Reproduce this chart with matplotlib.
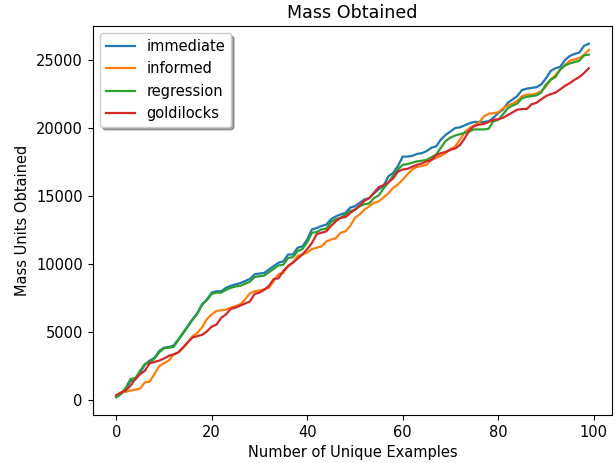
import matplotlib

matplotlib.use("Agg")
import matplotlib.pyplot as plt
import numpy as np

examples = np.arange(100)

immediate = [
    250, 450, 800, 1400, 1500, 2000, 2600, 2900, 3100, 3600,
    3850, 3900, 4000, 4450, 4950, 5450, 5950, 6400, 7050, 7400,
    7900, 8000, 8000, 8250, 8400, 8500, 8600, 8750, 8900, 9250,
    9300, 9350, 9600, 9850, 10100, 10200, 10700, 10700, 11200, 11300,
    11800, 12550, 12650, 12800, 12900, 13300, 13500, 13650, 13750, 14150,
    14250, 14500, 14750, 14850, 15200, 15500, 15750, 16450, 16700, 17200,
    17900, 17900, 17950, 18100, 18150, 18300, 18550, 18650, 19150, 19500,
    19750, 20000, 20050, 20200, 20350, 20450, 20450, 20450, 20500, 20750,
    21100, 21350, 21850, 22100, 22350, 22800, 22900, 22950, 23000, 23200,
    23650, 24200, 24400, 24500, 25000, 25300, 25450, 25550, 26050, 26200,
]
informed = [
    250, 550, 600, 700, 750, 850, 1300, 1350, 1900, 2500,
    2700, 2900, 3350, 3500, 3850, 4250, 4700, 4950, 5350, 5950,
    6300, 6550, 6600, 6650, 6800, 6900, 7050, 7400, 7850, 8000,
    8050, 8150, 8250, 8750, 9250, 9350, 9850, 10100, 10600, 10700,
    10850, 11100, 11200, 11300, 11650, 11800, 11900, 12300, 12400, 12800,
    13400, 13650, 14000, 14250, 14500, 14600, 14900, 15200, 15600, 15850,
    16200, 16600, 16950, 17150, 17200, 17300, 17650, 17800, 17950, 18150,
    18450, 18650, 19150, 19700, 20000, 20200, 20400, 20850, 21050, 21100,
    21150, 21450, 21650, 21800, 22000, 22350, 22450, 22450, 22550, 22700,
    23050, 23550, 23900, 24300, 24650, 24950, 25050, 25150, 25400, 25750,
]
regression = [
    200, 450, 900, 1550, 1600, 2150, 2650, 2750, 3050, 3500,
    3800, 3850, 3900, 4400, 4900, 5400, 5900, 6350, 7000, 7350,
    7800, 7900, 7900, 8100, 8250, 8350, 8400, 8550, 8700, 9050,
    9100, 9150, 9400, 9650, 9900, 9950, 10450, 10500, 10950, 11100,
    11600, 12300, 12350, 12550, 12600, 13100, 13300, 13400, 13650, 13900,
    14000, 14250, 14400, 14450, 14850, 15050, 15550, 16000, 16500, 16950,
    17300, 17350, 17450, 17550, 17600, 17650, 17850, 18050, 18550, 19050,
    19300, 19450, 19550, 19650, 19750, 19900, 19900, 19900, 19950, 20500,
    20600, 21000, 21450, 21650, 21800, 22200, 22300, 22350, 22400, 22600,
    23200, 23550, 23750, 24300, 24600, 24750, 24850, 24950, 25350, 25400,
]
goldilocks = [
    350, 550, 700, 1050, 1550, 1900, 2150, 2700, 2800, 2900,
    3050, 3250, 3350, 3500, 3850, 4250, 4600, 4700, 4800, 5050,
    5400, 5550, 6050, 6300, 6700, 6800, 6950, 7100, 7250, 7800,
    7900, 8100, 8400, 8900, 8950, 9500, 9850, 10100, 10400, 10700,
    11100, 11550, 12200, 12300, 12400, 12800, 13150, 13400, 13450, 13750,
    14000, 14300, 14650, 14850, 15250, 15650, 15800, 16000, 16300, 16800,
    16950, 17000, 17150, 17300, 17400, 17550, 17650, 18000, 18150, 18250,
    18400, 18500, 18750, 19250, 19850, 20150, 20250, 20300, 20450, 20600,
    20650, 20750, 20950, 21150, 21350, 21400, 21400, 21750, 21850, 22100,
    22350, 22500, 22600, 22850, 23100, 23300, 23550, 23750, 24050, 24400,
]

series = [
    ("immediate", immediate, "#1f77b4"),
    ("informed", informed, "#ff7f0e"),
    ("regression", regression, "#2ca02c"),
    ("goldilocks", goldilocks, "#d62728"),
]

plt.rcParams["font.size"] = 10.5
plt.rcParams["lines.linewidth"] = 1.6

fig = plt.figure(figsize=(6.16, 4.63), dpi=100)
ax = fig.add_axes([0.1503, 0.1037, 0.844, 0.840])
for name, vals, c in series:
    ax.plot(examples, vals, color=c, label=name)
ax.set_title("Mass Obtained")
ax.set_xlabel("Number of Unique Examples")
ax.set_ylabel("Mass Units Obtained")
ax.legend(loc="upper left", shadow=True)
fig.savefig("out.png", dpi=100)
